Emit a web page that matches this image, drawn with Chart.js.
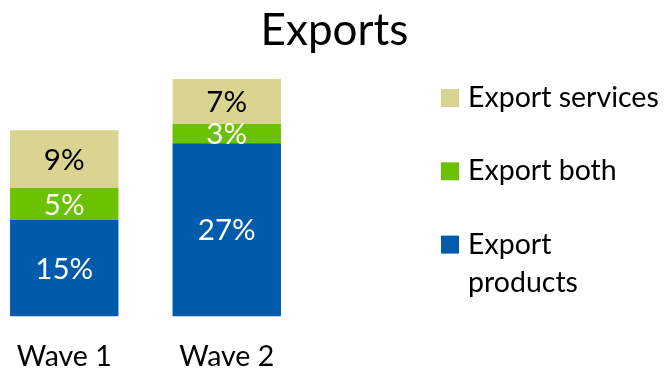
<!DOCTYPE html>
<html>
<head>
<meta charset="utf-8">
<title>Exports</title>
<script src="https://cdn.jsdelivr.net/npm/chart.js@4/dist/chart.umd.min.js"></script>
<style>
  html, body { margin: 0; padding: 0; background: #ffffff; }
  #chart { display: block; }
</style>
</head>
<body>
<canvas id="chart" width="665" height="369"></canvas>
<script>
// Share of firms by export type, per survey wave (percent)
const categories = ['Wave 1', 'Wave 2'];
const exportProducts = [15, 27];
const exportBoth = [5, 3];
const exportServices = [9, 7];
const seriesNames = ['Export products', 'Export both', 'Export services'];
const chartTitle = 'Exports';

const FONT = 'Lato, "Open Sans", sans-serif';

// Percent labels centred inside each stacked segment
const segmentLabels = {
  id: 'segmentLabels',
  afterDatasetsDraw(chart, args, opts) {
    const ctx = chart.ctx;
    ctx.save();
    ctx.font = opts.size + 'px ' + FONT;
    ctx.textAlign = 'center';
    ctx.textBaseline = 'middle';
    chart.data.datasets.forEach((ds, i) => {
      const meta = chart.getDatasetMeta(i);
      meta.data.forEach((bar, j) => {
        const p = bar.getProps(['x', 'y', 'base'], true);
        ctx.fillStyle = ds.labelColor;
        ctx.fillText(ds.data[j] + '%', p.x, (p.y + p.base) / 2 + 1);
      });
    });
    ctx.restore();
  }
};

// Title and right-hand legend (top series listed first)
const titleAndLegend = {
  id: 'titleAndLegend',
  afterDraw(chart, args, opts) {
    const ctx = chart.ctx;
    ctx.save();
    ctx.fillStyle = '#000000';
    ctx.textAlign = 'center';
    ctx.textBaseline = 'alphabetic';
    ctx.font = opts.titleSize + 'px ' + FONT;
    ctx.fillText(chartTitle, opts.titleX, opts.titleBaseline);

    ctx.textAlign = 'left';
    ctx.font = opts.legendSize + 'px ' + FONT;
    const items = chart.data.datasets.slice().reverse();
    items.forEach((ds, k) => {
      const top = opts.firstBoxTop + k * opts.itemGap;
      ctx.fillStyle = ds.backgroundColor;
      ctx.fillRect(opts.boxX, top, opts.boxSize, opts.boxSize);
      ctx.fillStyle = '#000000';
      ds.legendLines.forEach((line, n) => {
        ctx.fillText(line, opts.textX, top + opts.boxSize + n * opts.lineGap);
      });
    });
    ctx.restore();
  }
};

new Chart(document.getElementById('chart'), {
  type: 'bar',
  data: {
    labels: categories,
    datasets: [
      { label: seriesNames[0], data: exportProducts, backgroundColor: '#005BAA',
        labelColor: '#ffffff', legendLines: ['Export', 'products'] },
      { label: seriesNames[1], data: exportBoth, backgroundColor: '#6CC100',
        labelColor: '#ffffff', legendLines: ['Export both'] },
      { label: seriesNames[2], data: exportServices, backgroundColor: '#D9D48F',
        labelColor: '#000000', legendLines: ['Export services'] }
    ]
  },
  options: {
    responsive: false,
    animation: false,
    events: [],
    layout: { padding: { top: 79, left: 64.25, right: 438.25, bottom: 0 } },
    datasets: { bar: { categoryPercentage: 1, barPercentage: 0.667, clip: false } },
    scales: {
      x: {
        stacked: true,
        offset: false,
        grid: { display: false, drawTicks: false },
        border: { display: false },
        ticks: {
          color: '#000000',
          padding: 26.25,
          font: { family: FONT, size: 28.5, lineHeight: 1 },
          maxRotation: 0,
          autoSkip: false
        },
        // fixed band under the bars for the wave labels
        afterFit(scale) {
          scale.height = 52.7;
          scale.paddingLeft = 0;
          scale.paddingRight = 0;
        }
      },
      y: {
        stacked: true,
        display: false,
        min: 0,
        max: 37
      }
    },
    plugins: {
      legend: { display: false },
      title: { display: false },
      tooltip: { enabled: false },
      segmentLabels: { size: 29.5 },
      titleAndLegend: {
        titleSize: 44, titleX: 334.5, titleBaseline: 45,
        legendSize: 28.5, boxX: 441, boxSize: 18, firstBoxTop: 89, itemGap: 73.3,
        textX: 468, lineGap: 38.7
      }
    }
  },
  plugins: [segmentLabels, titleAndLegend]
});
</script>
</body>
</html>
